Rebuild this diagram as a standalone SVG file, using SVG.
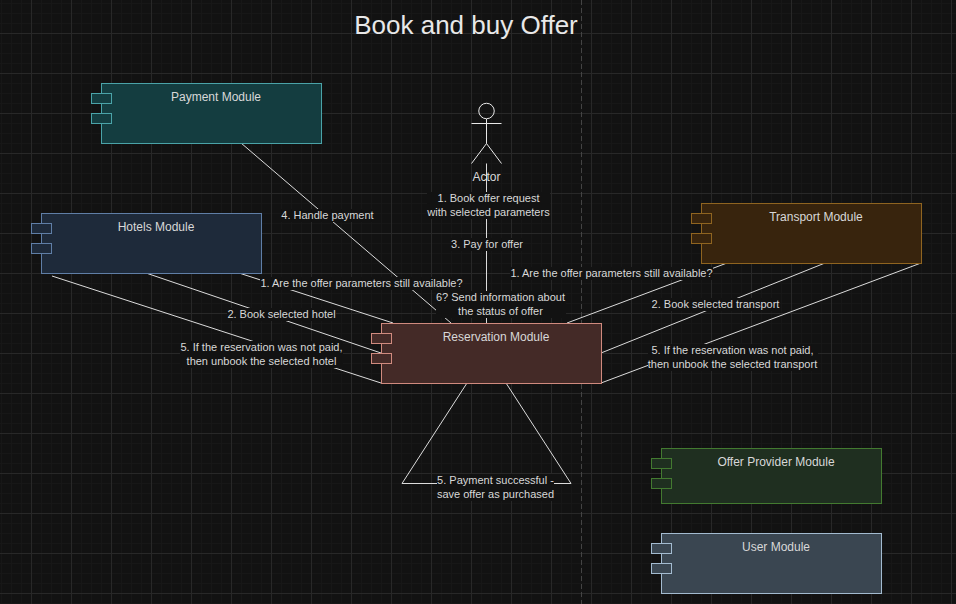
<svg xmlns="http://www.w3.org/2000/svg" width="956" height="604" viewBox="0 0 956 604">
<defs>
<pattern id="minor" width="10" height="10" patternUnits="userSpaceOnUse" x="1" y="3"><path d="M0 .5H10M.5 0V10" fill="none" stroke="#171717" stroke-width="1"/></pattern>
<pattern id="major" width="40" height="40" patternUnits="userSpaceOnUse" x="31" y="33"><path d="M0 .5H40M.5 0V40" fill="none" stroke="#282828" stroke-width="1"/></pattern>
</defs>
<style>
text{font-family:"Liberation Sans",Arial,sans-serif;fill:#d8d8d8;text-anchor:middle}
.title{font-size:26px;fill:#e8e8e8}
.m{font-size:12px}
.l{font-size:11px}
.c{fill:none;stroke:#dcdcdc;stroke-width:1}
.bg{fill:#121212;stroke:none}
.pay rect{fill:#143d40;stroke:#4aa3a8}
.hot rect{fill:#1e2a3a;stroke:#5f7ea6}
.tra rect{fill:#38240d;stroke:#8f6420}
.res rect{fill:#442a27;stroke:#d08a7e}
.off rect{fill:#1f2f20;stroke:#437a30}
.usr rect{fill:#3a4651;stroke:#a3bbd0}
.a{fill:none;stroke:#e8e8e8;stroke-width:1}
</style>
<rect width="956" height="604" fill="#121212"/>
<rect width="956" height="604" fill="url(#minor)"/>
<rect width="956" height="604" fill="url(#major)"/>
<path d="M581.5 0V604" stroke="#444444" stroke-dasharray="5 3" fill="none"/>
<text class="title" x="466" y="34">Book and buy Offer</text>
<g id="connectors">
<path class="c" d="M241 143L451 323"/>
<path class="c" d="M486.5 163.5V323"/>
<path class="c" d="M239 273L393 323"/>
<path class="c" d="M146 273L381 353"/>
<path class="c" d="M52 276L381 383"/>
<path class="c" d="M727 263L567 323"/>
<path class="c" d="M825 263L601 353"/>
<path class="c" d="M921 263L601 383"/>
<path class="c" d="M467 383L402 483.5H571L506 383"/>
</g>
<g id="labels">
<rect class="bg" x="281" y="209" width="93" height="13"/>
<text class="l" x="327.5" y="219">4. Handle payment</text>
<rect class="bg" x="427" y="192" width="123" height="27"/>
<text class="l" x="488.5" y="202">1. Book offer request</text>
<text class="l" x="488.5" y="216">with selected parameters</text>
<rect class="bg" x="451" y="238" width="73" height="13"/>
<text class="l" x="487" y="248">3. Pay for offer</text>
<rect class="bg" x="260" y="277" width="203" height="13"/>
<text class="l" x="361.5" y="287">1. Are the offer parameters still available?</text>
<rect class="bg" x="436" y="291" width="130" height="27"/>
<text class="l" x="500.5" y="301">6? Send information about</text>
<text class="l" x="500.5" y="315">the status of offer</text>
<rect class="bg" x="510" y="267" width="203" height="13"/>
<text class="l" x="611.5" y="277">1. Are the offer parameters still available?</text>
<rect class="bg" x="227" y="308" width="109" height="13"/>
<text class="l" x="281.5" y="318">2. Book selected hotel</text>
<rect class="bg" x="651" y="298" width="129" height="13"/>
<text class="l" x="715.5" y="308">2. Book selected transport</text>
<rect class="bg" x="180" y="341" width="163" height="27"/>
<text class="l" x="261.5" y="351">5. If the reservation was not paid,</text>
<text class="l" x="261.5" y="365">then unbook the selected hotel</text>
<rect class="bg" x="648" y="344" width="170" height="27"/>
<text class="l" x="732.5" y="354">5. If the reservation was not paid,</text>
<text class="l" x="732.5" y="368">then unbook the selected transport</text>
<rect class="bg" x="437" y="474" width="117" height="27"/>
<text class="l" x="495.5" y="484">5. Payment successful -</text>
<text class="l" x="495.5" y="498">save offer as purchased</text>
</g>
<g id="actor">
<circle class="a" cx="486.5" cy="111" r="7.75"/>
<path class="a" d="M486.5 119V143.5M471.5 123.5H501.5M471.5 163.5L486.5 143.5L501.5 163.5"/>
<text class="m" x="486.5" y="181">Actor</text>
</g>
<g id="payment" class="pay">
<rect x="101.5" y="83.5" width="220" height="60"/>
<rect x="91.5" y="93.5" width="20" height="10"/>
<rect x="91.5" y="113.5" width="20" height="10"/>
<text class="m" x="216" y="101">Payment Module</text>
</g>
<g id="hotels" class="hot">
<rect x="41.5" y="213.5" width="220" height="60"/>
<rect x="31.5" y="223.5" width="20" height="10"/>
<rect x="31.5" y="243.5" width="20" height="10"/>
<text class="m" x="156" y="231">Hotels Module</text>
</g>
<g id="transport" class="tra">
<rect x="701.5" y="203.5" width="220" height="60"/>
<rect x="691.5" y="213.5" width="20" height="10"/>
<rect x="691.5" y="233.5" width="20" height="10"/>
<text class="m" x="816" y="221">Transport Module</text>
</g>
<g id="reservation" class="res">
<rect x="381.5" y="323.5" width="220" height="60"/>
<rect x="371.5" y="333.5" width="20" height="10"/>
<rect x="371.5" y="353.5" width="20" height="10"/>
<text class="m" x="496" y="341">Reservation Module</text>
</g>
<g id="offer-provider" class="off">
<rect x="661.5" y="448.5" width="220" height="55"/>
<rect x="651.5" y="458.5" width="20" height="10"/>
<rect x="651.5" y="478.5" width="20" height="10"/>
<text class="m" x="776" y="466">Offer Provider Module</text>
</g>
<g id="user" class="usr">
<rect x="661.5" y="533.5" width="220" height="60"/>
<rect x="651.5" y="543.5" width="20" height="10"/>
<rect x="651.5" y="563.5" width="20" height="10"/>
<text class="m" x="776" y="551">User Module</text>
</g>
</svg>
